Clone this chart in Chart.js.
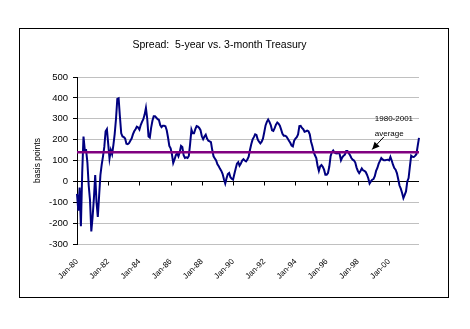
<!DOCTYPE html>
<html>
<head>
<meta charset="utf-8">
<script src="https://cdn.jsdelivr.net/npm/chart.js@4"></script>
<style>
  html, body { margin: 0; padding: 0; background: #fff; }
  #wrap { position: relative; width: 470px; height: 329px; }
  #frame { position: absolute; left: 19px; top: 28px; width: 428px; height: 268px; border: 1px solid #000; }
  canvas { position: absolute; left: 0; top: 0; }
</style>
</head>
<body>
<div id="wrap">
  <div id="frame"></div>
  <canvas id="spreadChart" width="470" height="329"></canvas>
</div>
<script>
const years = ["80", "81", "82", "83", "84", "85", "86", "87", "88", "89", "90",
  "91", "92", "93", "94", "95", "96", "97", "98", "99", "00", "01"];
const monthNames = ["Jan", "Feb", "Mar", "Apr", "May", "Jun",
  "Jul", "Aug", "Sep", "Oct", "Nov", "Dec"];

// 5-year minus 3-month Treasury, basis points, monthly 1980-2001
const spread = [
  -60, -140, -30, -215, 40, 215, 150, 150, 90, -20, -90, -240,      // 1980
  -170, -80, 30, -100, -170, -70, 30, 80, 120, 165, 240, 250,       // 1981
  180, 110, 150, 130, 175, 228, 300, 395, 398, 310, 230, 215,       // 1982
  212, 205, 180, 178, 183, 195, 205, 225, 240, 250, 262, 258,       // 1983
  248, 270, 285, 298, 320, 352, 300, 215, 210, 256, 290, 312,       // 1984
  312, 305, 298, 294, 270, 260, 266, 266, 264, 245, 210, 170,       // 1985
  158, 130, 88, 105, 125, 135, 120, 140, 170, 165, 125, 112,        // 1986
  115, 112, 122, 180, 248, 230, 230, 250, 265, 262, 256, 245,       // 1987
  216, 202, 215, 224, 205, 195, 192, 188, 150, 120, 110, 100,       // 1988
  82, 72, 60, 50, 35, 10, -10, 15, 35, 40, 20, 12,                  // 1989
  8, 35, 60, 85, 92, 75, 85, 100, 106, 100, 96, 105,                // 1990
  118, 150, 178, 200, 212, 225, 222, 200, 190, 182, 190, 205,       // 1991
  235, 268, 285, 296, 285, 270, 245, 242, 255, 272, 282, 276,       // 1992
  267, 248, 228, 219, 219, 215, 205, 195, 185, 172, 168, 195,       // 1993
  205, 212, 225, 265, 266, 256, 250, 238, 240, 243, 240, 225,       // 1994
  190, 168, 140, 125, 112, 75, 50, 72, 78, 70, 56, 32,              // 1995
  32, 40, 70, 120, 140, 148, 138, 135, 134, 138, 130, 101,          // 1996
  115, 123, 128, 145, 145, 135, 125, 112, 104, 100, 90, 66,         // 1997
  50, 40, 50, 62, 53, 50, 45, 32, 15, -10, 0, 8,                    // 1998
  11, 25, 50, 64, 85, 98, 112, 105, 101, 101, 103, 104,             // 1999
  101, 117, 100, 80, 64, 56, 40, 11, -20, -35, -56, -80,            // 2000
  -65, -48, 0, 16, 72, 123, 118, 117, 122, 130, 170, 208            // 2001
];
const average = 139;
const tickEvery = 24;

const labels = [];
years.forEach((yr) => monthNames.forEach((m) => labels.push(m + "-" + yr)));

const FONT = "'Liberation Sans', Arial, sans-serif";

const overlayPlugin = {
  id: "overlay",
  beforeDatasetsDraw(chart) {
    const { ctx, scales: { x, y } } = chart;
    const y0 = Math.round(y.getPixelForValue(0)) + 0.5;
    ctx.save();
    ctx.strokeStyle = "#000";
    ctx.lineWidth = 1;
    ctx.beginPath();
    ctx.moveTo(x.left, y0);
    ctx.lineTo(x.right, y0);
    for (let i = 0; i < labels.length; i += tickEvery) {
      const px = Math.round(x.getPixelForValue(i)) + 0.5;
      ctx.moveTo(px, y0);
      ctx.lineTo(px, y0 + 4);
    }
    ctx.stroke();
    ctx.restore();
  },
  afterDatasetsDraw(chart) {
    const { ctx, scales: { x, y } } = chart;
    const ya = y.getPixelForValue(average);
    ctx.save();
    ctx.strokeStyle = "#800080";
    ctx.lineWidth = 2.5;
    ctx.beginPath();
    ctx.moveTo(x.left, ya);
    ctx.lineTo(x.right, ya);
    ctx.stroke();

    // annotation
    ctx.fillStyle = "#000";
    ctx.font = "8px " + FONT;
    ctx.textBaseline = "middle";
    ctx.textAlign = "left";
    const tx = x.getPixelForValue(229);
    ctx.fillText("1980-2001", tx, y.getPixelForValue(298));
    ctx.fillText("average", tx, y.getPixelForValue(230));

    const ax1 = x.getPixelForValue(236), ay1 = y.getPixelForValue(213);
    const ax2 = x.getPixelForValue(227), ay2 = y.getPixelForValue(153);
    const ang = Math.atan2(ay2 - ay1, ax2 - ax1);
    ctx.strokeStyle = "#000";
    ctx.lineWidth = 1;
    ctx.beginPath();
    ctx.moveTo(ax1, ay1);
    ctx.lineTo(ax2, ay2);
    ctx.stroke();
    ctx.beginPath();
    ctx.moveTo(ax2, ay2);
    ctx.lineTo(ax2 - 8 * Math.cos(ang - 0.45), ay2 - 8 * Math.sin(ang - 0.45));
    ctx.lineTo(ax2 - 8 * Math.cos(ang + 0.45), ay2 - 8 * Math.sin(ang + 0.45));
    ctx.closePath();
    ctx.fill();
    ctx.restore();
  }
};

const spreadChart = new Chart(document.getElementById("spreadChart").getContext("2d"), {
  type: "line",
  plugins: [overlayPlugin],
  data: {
    labels: labels,
    datasets: [
      {
        label: "Spread",
        data: spread,
        borderColor: "#000080",
        borderWidth: 2,
        pointRadius: 0,
        tension: 0,
        fill: false,
      },
    ],
  },
  options: {
    responsive: false,
    animation: false,
    layout: { padding: { left: 20, right: 51, top: 0, bottom: 0 } },
    plugins: {
      legend: { display: false },
      tooltip: { enabled: false },
      title: {
        display: true,
        text: "Spread:  5-year vs. 3-month Treasury",
        color: "#000",
        font: { family: FONT, size: 10.5, weight: "normal" },
        padding: { top: 39, bottom: 25.4 },
      },
    },
    scales: {
      x: {
        grid: { display: false, drawTicks: false },
        border: { display: false },
        ticks: {
          autoSkip: false,
          minRotation: 45,
          maxRotation: 45,
          padding: 13,
          color: "#000",
          font: { family: FONT, size: 8 },
          callback: (val, idx) => (idx % tickEvery === 0 ? labels[idx] : ""),
        },
        afterFit: (scale) => { scale.height = 85; },
      },
      y: {
        min: -300,
        max: 500,
        grid: { color: "#c0c0c0", lineWidth: 1, tickColor: "#000", tickLength: 4 },
        border: { color: "#000", width: 1 },
        ticks: {
          stepSize: 100,
          padding: 5,
          color: "#000",
          font: { family: FONT, size: 9.5 },
        },
        title: {
          display: true,
          text: "basis points",
          color: "#000",
          font: { family: FONT, size: 8.5 },
          padding: { top: 13, bottom: 0 },
        },
        afterFit: (scale) => { scale.width = 57; },
      },
    },
  },
});
</script>
</body>
</html>
